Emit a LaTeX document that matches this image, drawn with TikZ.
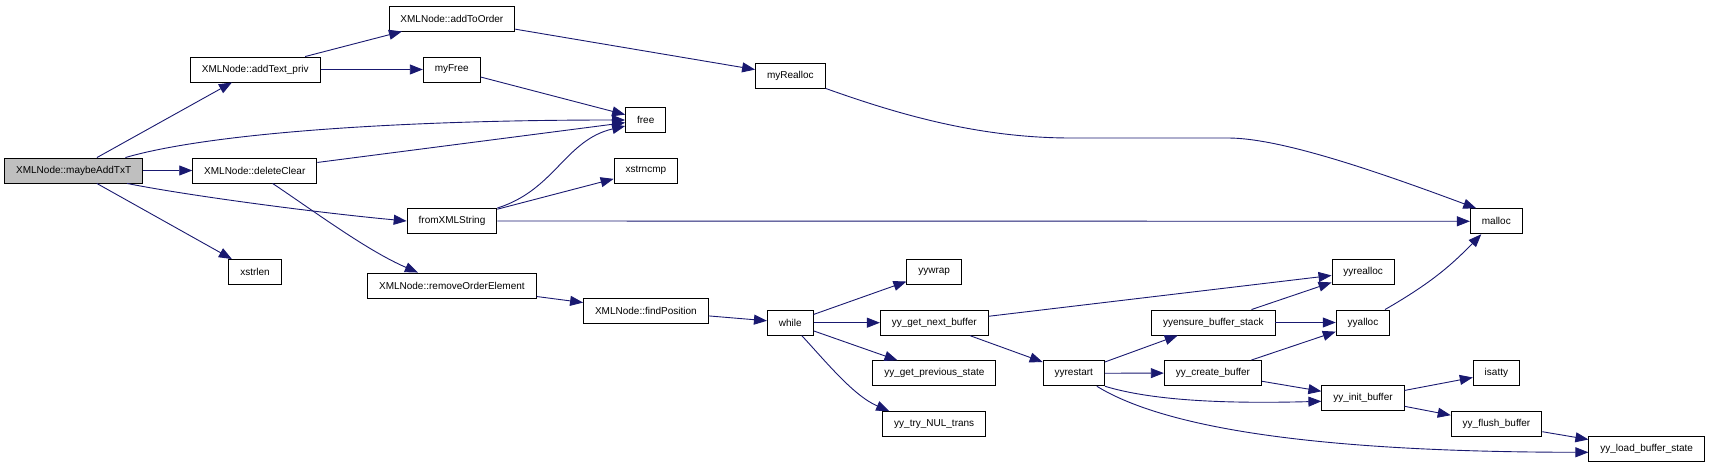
\documentclass[tikz,border=0pt]{standalone}
\usepackage{fontspec}
\setmainfont{Liberation Sans}
\usetikzlibrary{arrows.meta}
\definecolor{cgedge}{HTML}{191970}
\definecolor{cgroot}{HTML}{BFBFBF}
\tikzset{
  fn/.style   = {draw=black, fill=white, line width=0.9pt, inner xsep=11.5pt,
                 inner ysep=0pt, minimum height=25pt,
                 font=\fontsize{10}{12}\selectfont},
  root/.style = {fn, fill=cgroot},
  call/.style = {-{Triangle[length=13pt,width=10pt]}, draw=cgedge,
                 line width=0.9pt},
}
\begin{document}
\begin{tikzpicture}[x=1pt, y=-1pt]

  \useasboundingbox (0,0) rectangle (1709,468);

  % ---------- caller and first level ------------------------------------
  \node[root] (maybeadd) at (73.7,170.5) {XMLNode::maybeAddTxT};
  \node[fn] (addtext)  at (255.2, 69.5) {XMLNode::addText\_priv};
  \node[fn] (delclear) at (254.8,170.5) {XMLNode::deleteClear};
  \node[fn] (xstrlen)  at (255.0,272.0) {xstrlen};

  % ---------- second level ---------------------------------------------
  \node[fn] (addorder) at (451.9, 18.5) {XMLNode::addToOrder};
  \node[fn] (myfree)   at (451.7, 69.5) {myFree};
  \node[fn] (fromxml)  at (452.0,221.0) {fromXMLString};
  \node[fn] (remorder) at (451.9,285.5) {XMLNode::removeOrderElement};

  % ---------- third level ----------------------------------------------
  \node[fn] (free)     at (645.7,120.0) {free};
  \node[fn] (xstrncmp) at (645.9,170.5) {xstrncmp};
  \node[fn] (findpos)  at (645.9,310.7) {XMLNode::findPosition};
  \node[fn] (myrealloc) at (790.4,75.5) {myRealloc};
  \node[fn] (whilefn)  at (790.3,322.7) {while};

  % ---------- scanner functions ----------------------------------------
  \node[fn] (yywrap)    at (934.2,271.7) {yywrap};
  \node[fn] (nextbuf)   at (934.3,322.7) {yy\_get\_next\_buffer};
  \node[fn] (prevstate) at (934.4,373.3) {yy\_get\_previous\_state};
  \node[fn] (trynul)    at (934.2,424.0) {yy\_try\_NUL\_trans};
  \node[fn] (yyrestart) at (1073.8,373.3) {yyrestart};
  \node[fn] (ensure)    at (1213.3,322.5) {yyensure\_buffer\_stack};
  \node[fn] (createbuf) at (1212.9,373.0) {yy\_create\_buffer};
  \node[fn] (yyrealloc) at (1363.2,271.7) {yyrealloc};
  \node[fn] (yyalloc)   at (1363.0,322.5) {yyalloc};
  \node[fn] (initbuf)   at (1363.0,398.3) {yy\_init\_buffer};
  \node[fn] (malloc)    at (1496.3,221.3) {malloc};
  \node[fn] (isatty)    at (1496.4,373.0) {isatty};
  \node[fn] (flushbuf)  at (1496.5,424.0) {yy\_flush\_buffer};
  \node[fn] (loadstate) at (1646.7,449.3) {yy\_load\_buffer\_state};

  % ---------- calls ------------------------------------------------------
  \draw[call] (maybeadd) -- (addtext);
  \draw[call] ([xshift=51.7pt]maybeadd.north) .. controls (210,133) and (400,120)
      .. (free.west);
  \draw[call] (maybeadd) -- (delclear);
  \draw[call] ([xshift=53.3pt]maybeadd.south) .. controls (190,196) and (320,213)
      .. (fromxml.west);
  \draw[call] (maybeadd) -- (xstrlen);

  \draw[call] (addtext) -- (addorder);
  \draw[call] (addtext) -- (myfree);
  \draw[call] (addorder) -- (myrealloc);
  \draw[call] (myfree) -- (free);

  \draw[call] (delclear) -- (free);
  \draw[call] ([xshift=17.8pt]delclear.south) .. controls (318,214) and (368,251)
      .. ([xshift=-34pt]remorder.north);

  \draw[call] (fromxml.north east) .. controls (555,190) and (565,140)
      .. ([yshift=-6pt]free.west);
  \draw[call] (fromxml) -- (xstrncmp);
  \draw[call] (fromxml) -- (malloc);

  \draw[call] (myrealloc.south east) .. controls (900,115) and (980,138)
      .. (1071,138) -- (1228,138) .. controls (1280,138) and (1376,171)
      .. ([xshift=-20pt]malloc.north);

  \draw[call] (remorder) -- (findpos);
  \draw[call] (findpos) -- (whilefn);

  \draw[call] (whilefn) -- (yywrap);
  \draw[call] (whilefn) -- (nextbuf);
  \draw[call] (whilefn) -- (prevstate);
  \draw[call] ([xshift=11.5pt]whilefn.south) .. controls (827,363) and (854,396)
      .. ([xshift=-45pt]trynul.north);

  \draw[call] (nextbuf) -- (yyrealloc);
  \draw[call] (nextbuf) -- (yyrestart);

  \draw[call] (yyrestart) -- (ensure);
  \draw[call] (yyrestart) -- (createbuf);
  \draw[call] (yyrestart.south east) .. controls (1150,400) and (1220,404)
      .. ([yshift=-3pt]initbuf.west);
  \draw[call] ([xshift=23pt]yyrestart.south) .. controls (1160,425) and (1300,452)
      .. ([yshift=-3pt]loadstate.west);

  \draw[call] (ensure) -- (yyrealloc);
  \draw[call] (ensure) -- (yyalloc);
  \draw[call] ([xshift=22pt]yyalloc.north) to[bend right=8]
      ([xshift=-15pt]malloc.south);

  \draw[call] (createbuf) -- (yyalloc);
  \draw[call] (createbuf) -- (initbuf);

  \draw[call] (initbuf) -- (isatty);
  \draw[call] (initbuf) -- (flushbuf);
  \draw[call] (flushbuf) -- (loadstate);

\end{tikzpicture}
\end{document}
